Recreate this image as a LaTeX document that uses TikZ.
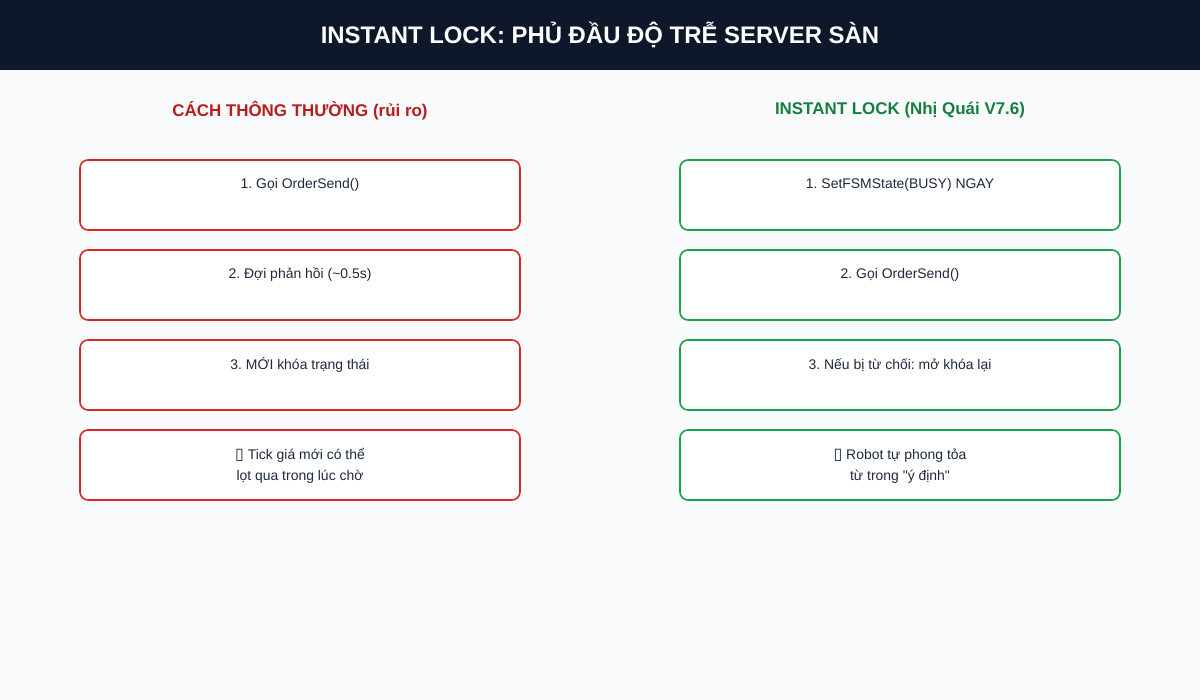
\documentclass[tikz,border=0pt]{standalone}
\usepackage{fontspec}
\setmainfont{Liberation Sans}
\newfontfamily\symfont{DejaVu Sans}
\usepackage{tikz}
\usetikzlibrary{calc}
\frenchspacing

\definecolor{headbg}{HTML}{0F172A}
\definecolor{pagebg}{HTML}{F8FAFC}
\definecolor{riskred}{HTML}{DC2626}
\definecolor{riskhead}{HTML}{B91C1C}
\definecolor{lockgreen}{HTML}{16A34A}
\definecolor{lockhead}{HTML}{15803D}
\definecolor{bodytext}{HTML}{1E293B}

\tikzset{
	stepbox/.style={draw, fill=white, rounded corners=8bp, line width=1.6bp,
		minimum width=440bp, minimum height=70bp, inner sep=0pt},
	redbox/.style={stepbox, draw=riskred},
	greenbox/.style={stepbox, draw=lockgreen},
	boxtext/.style={anchor=base, inner sep=0pt, text=bodytext,
		font=\fontsize{14}{21}\selectfont, align=center},
	colhead/.style={anchor=base, inner sep=0pt, font=\bfseries\fontsize{17}{20}\selectfont},
}
\newcommand{\tofu}{{\symfont\fontsize{16}{16}\selectfont ▯}}

\begin{document}
\begin{tikzpicture}[x=1bp, y=-1bp]
		%%%%% START %%%%%
		
		\fill[pagebg] (0, 0) rectangle (1200, 700);
		\fill[headbg] (0, 0) rectangle (1200, 70);
		\node[anchor=base, inner sep=0pt, text=white, font=\bfseries\fontsize{24}{28}\selectfont] (title) at (600, 44) {INSTANT LOCK: PHỦ ĐẦU ĐỘ TRỄ SERVER SÀN};
		
		% left column
		\node[colhead, text=riskhead] (lefthead) at (300, 117) {CÁCH THÔNG THƯỜNG (rủi ro)};
		
		\node[redbox] (l1) at (300, 195) {};
		\node[redbox] (l2) at (300, 285) {};
		\node[redbox] (l3) at (300, 375) {};
		\node[redbox] (l4) at (300, 465) {};
		
		\node[boxtext] (l1t) at ($(l1.north)+(0, 29)$) {1. Gọi OrderSend()};
		\node[boxtext] (l2t) at ($(l2.north)+(0, 29)$) {2. Đợi phản hồi (\textasciitilde0.5s)};
		\node[boxtext] (l3t) at ($(l3.north)+(0, 30)$) {3. MỚI khóa trạng thái};
		\node[boxtext] (l4t) at ($(l4.north)+(0, 30)$) {\tofu\ Tick giá mới có thể};
		\node[boxtext] (l4u) at ($(l4.north)+(0, 51)$) {lọt qua trong lúc chờ};
		
		% right column
		\node[colhead, text=lockhead] (righthead) at (900, 115) {INSTANT LOCK (Nhị Quái V7.6)};
		
		\node[greenbox] (r1) at (900, 195) {};
		\node[greenbox] (r2) at (900, 285) {};
		\node[greenbox] (r3) at (900, 375) {};
		\node[greenbox] (r4) at (900, 465) {};
		
		\node[boxtext] (r1t) at ($(r1.north)+(0, 29)$) {1. SetFSMState(BUSY) NGAY};
		\node[boxtext] (r2t) at ($(r2.north)+(0, 29)$) {2. Gọi OrderSend()};
		\node[boxtext] (r3t) at ($(r3.north)+(0, 30)$) {3. Nếu bị từ chối: mở khóa lại};
		\node[boxtext] (r4t) at ($(r4.north)+(0, 30)$) {\tofu\ Robot tự phong tỏa};
		\node[boxtext] (r4u) at ($(r4.north)+(0, 51)$) {từ trong \textquotedbl ý định\textquotedbl};
		
		%%%%% END %%%%%
	\end{tikzpicture}
\end{document}
